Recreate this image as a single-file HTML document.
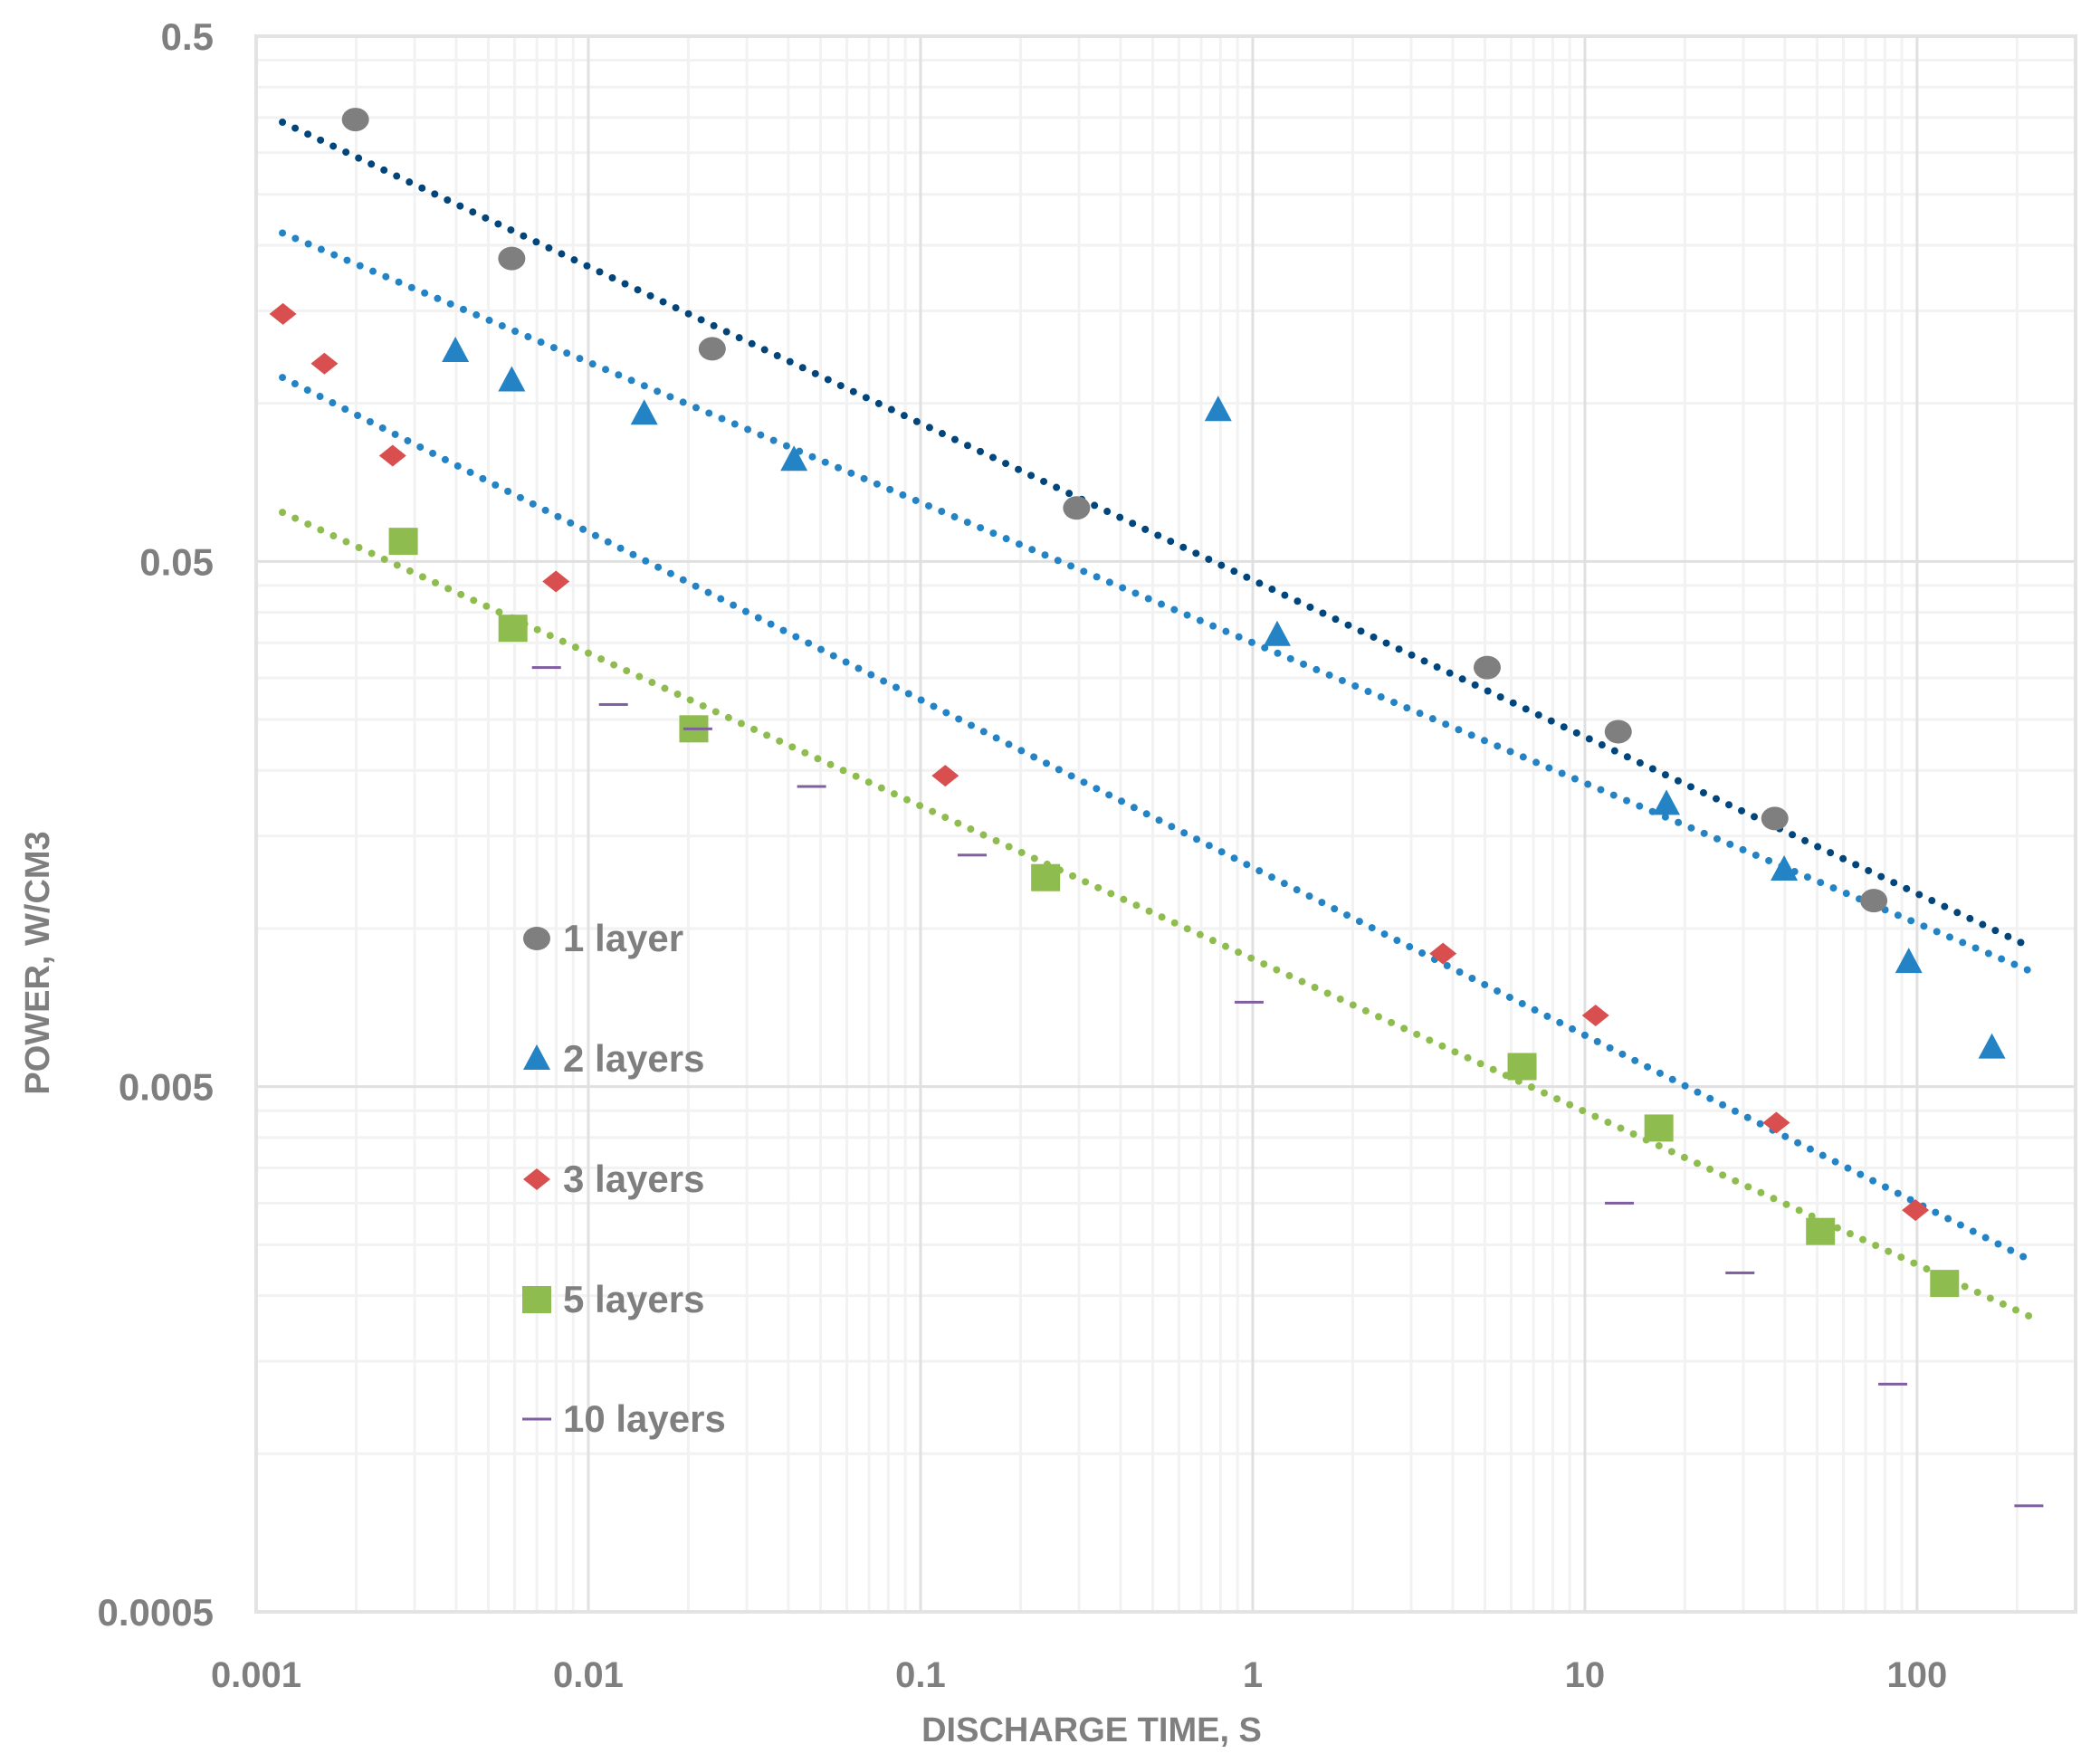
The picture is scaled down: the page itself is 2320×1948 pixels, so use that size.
<!DOCTYPE html>
<html><head><meta charset="utf-8"><style>
html,body{margin:0;padding:0;background:#fff;}
svg{display:block;font-family:"Liberation Sans",sans-serif;font-weight:bold;}
</style></head><body>
<svg id="chart" width="2320" height="1948" viewBox="0 0 2320 1948" xmlns="http://www.w3.org/2000/svg">
<g id="grid"></g>
<g id="trends"></g>
<g id="marks"></g>
<g id="axes"></g>
<g id="legend"></g>
<text x="0" y="0" transform="translate(54,1064) rotate(-90)" text-anchor="middle" font-size="38" fill="#7f7f7f">POWER, W/CM3</text>
<text x="1206" y="1924" text-anchor="middle" font-size="38" fill="#7f7f7f">DISCHARGE TIME, S</text>
</svg>
<script>
const xTicks=[0.001,0.01,0.1,1,10,100];
const xTickLabels=["0.001","0.01","0.1","1","10","100"];
const yTicks=[0.5,0.05,0.005,0.0005];
const yTickLabels=["0.5","0.05","0.005","0.0005"];
const seriesNames=["1 layer","2 layers","3 layers","5 layers","10 layers"];
const t1=[0.00199,0.00588,0.0236,0.295,5.08,12.6,37.3,74.1];
const p1=[0.347,0.1887,0.127,0.0632,0.0314,0.0237,0.0162,0.0113];
const t2=[0.00398,0.00588,0.01473,0.0416,0.787,1.185,17.6,39.8,94.4,168];
const p2=[0.1257,0.1105,0.0955,0.078,0.097,0.0362,0.01726,0.01294,0.00863,0.00593];
const t3=[0.001204,0.001605,0.002576,0.00799,0.1187,3.74,10.77,37.7,98.9];
const p3=[0.148,0.119,0.0795,0.0458,0.01954,0.00896,0.00683,0.00427,0.00291];
const t5=[0.002774,0.00593,0.02077,0.238,6.47,16.7,51.2,121];
const p5=[0.0546,0.0373,0.024,0.0125,0.00546,0.00417,0.00265,0.00211];
const t10=[0.00748,0.0119,0.02135,0.047,0.143,0.975,12.7,29.3,84.5,217];
const p10=[0.0314,0.0267,0.024,0.01864,0.0138,0.00724,0.0030,0.00221,0.001357,0.000796];
const trendT=[0.0012,221];
const trend1=[0.343,0.0092];
const trend2=[0.211,0.00828];
const trend3=[0.112,0.00233];
const trend5=[0.062,0.00182];

const NS="http://www.w3.org/2000/svg";
const L=283,R=2293,T=40,B=1781;
const xMin=0.001,xMax=300,yMin=0.0005,yMax=0.5;
const xDec=(R-L)/Math.log10(xMax/xMin);
const yDec=(B-T)/Math.log10(yMax/yMin);
function X(t){return L+Math.log10(t/xMin)*xDec;}
function Y(p){return T+Math.log10(yMax/p)*yDec;}
function mk(tag,attrs,parent){const e=document.createElementNS(NS,tag);for(const k in attrs)e.setAttribute(k,attrs[k]);parent.appendChild(e);return e;}
const grid=document.getElementById('grid'),axes=document.getElementById('axes'),marks=document.getElementById('marks'),trends=document.getElementById('trends'),legend=document.getElementById('legend');

for(let d=-3;d<=2;d++){for(let k=2;k<=9;k++){const v=k*Math.pow(10,d);if(v>xMax)break;
 const l=mk('line',{x1:X(v),x2:X(v),y1:T,y2:B,stroke:'#f2f2f2','stroke-width':3},grid);
 
 }}
[0.0005,0.005,0.05].forEach(b=>{for(let k=2;k<=9;k++){const v=b*k;
 const l=mk('line',{x1:L,x2:R,y1:Y(v),y2:Y(v),stroke:'#f2f2f2','stroke-width':3},grid);
 
 }});
xTicks.forEach((v,i)=>{
 const l=mk('line',{x1:X(v),x2:X(v),y1:T,y2:B,stroke:'#e0e0e0','stroke-width':3},grid);
 
 
 const tx=mk('text',{x:X(v),y:1864,'text-anchor':'middle','font-size':40,fill:'#7f7f7f'},axes);
 tx.textContent=xTickLabels[i];
 
 
});
yTicks.forEach((v,i)=>{
 const l=mk('line',{x1:L,x2:R,y1:Y(v),y2:Y(v),stroke:'#e0e0e0','stroke-width':3},grid);
 
 
 const tx=mk('text',{x:236,y:Y(v)+15,'text-anchor':'end','font-size':42,fill:'#7f7f7f'},axes);
 tx.textContent=yTickLabels[i];
 
 
});
mk('rect',{x:L,y:T,width:R-L,height:B-T,fill:'none',stroke:'#e3e3e3','stroke-width':4},grid);

[[trend1,'#00457c'],[trend2,'#2383c4'],[trend3,'#2383c4'],[trend5,'#8fbc4f']].forEach((tr,i)=>{
 const l=mk('line',{x1:X(trendT[0]),y1:Y(tr[0][0]),x2:X(trendT[1]),y2:Y(tr[0][1]),stroke:tr[1],'stroke-width':8,'stroke-linecap':'round','stroke-dasharray':'0 15.5'},trends);
 
 
});

function marker(type,cx,cy,parent){
 let e;
 if(type==='circle')e=mk('ellipse',{cx:cx,cy:cy,rx:15,ry:13,fill:'#7f7f7f'},parent);
 else if(type==='tri')e=mk('polygon',{points:`${cx},${cy-16} ${cx+15},${cy+12} ${cx-15},${cy+12}`,fill:'#2383c4'},parent);
 else if(type==='dia')e=mk('polygon',{points:`${cx},${cy-12} ${cx+15},${cy} ${cx},${cy+12} ${cx-15},${cy}`,fill:'#d94f4f'},parent);
 else if(type==='sq')e=mk('rect',{x:cx-16,y:cy-15,width:32,height:30,fill:'#8fbc4f'},parent);
 else e=mk('rect',{x:cx-16,y:cy-1.5,width:32,height:3,fill:'#7f5fa0'},parent);
 return e;
}
const sets=[[t1,p1,'circle'],[t2,p2,'tri'],[t3,p3,'dia'],[t5,p5,'sq'],[t10,p10,'dash']];
const sNames=['1-layer','2-layers','3-layers','5-layers','10-layers'];
sets.forEach((s,si)=>{s[0].forEach((t,i)=>{
 const e=marker(s[2],X(t),Y(s[1][i]),marks);
 
 
});});
const legY=[1037,1170,1303,1436,1568];
seriesNames.forEach((n,i)=>{
 const e=marker(sets[i][2],593,legY[i],legend);
 
 
 const tx=mk('text',{x:622,y:legY[i]+14,'font-size':42,fill:'#7f7f7f'},legend);
 tx.textContent=n;
 
 
});
</script>
</body></html>
